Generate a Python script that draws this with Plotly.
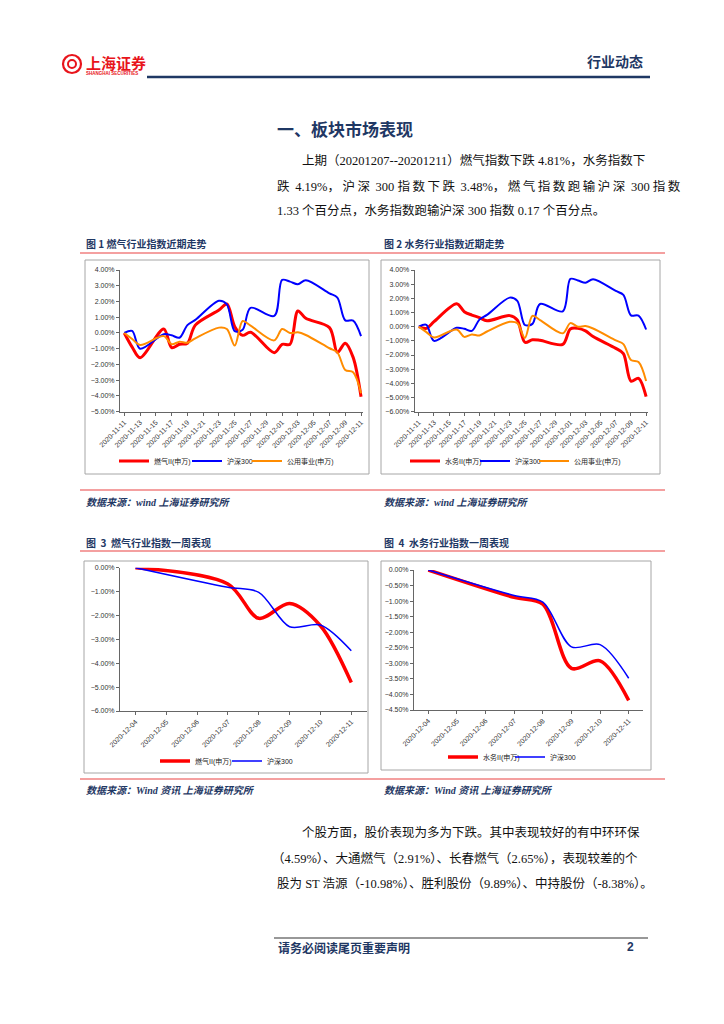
import plotly.graph_objects as go

# page is 724x1024; the html body has an 8px margin, so the figure covers 8..716 x 8..1016
OFF = 8
W, H = 708, 1008


def px(x):
    return (x - OFF) / W


def py(y):
    return 1 - (y - OFF) / H


# ---------------- data ----------------
month_dates = ["2020-11-11", "2020-11-12", "2020-11-13", "2020-11-16", "2020-11-17", "2020-11-18",
               "2020-11-19", "2020-11-20", "2020-11-23", "2020-11-24", "2020-11-25", "2020-11-26",
               "2020-11-27", "2020-11-30", "2020-12-01", "2020-12-02", "2020-12-03", "2020-12-04",
               "2020-12-07", "2020-12-08", "2020-12-09", "2020-12-10", "2020-12-11"]
gas_month = [0.00, -0.90, -1.57, 0.25, -0.93, -0.72, -0.65, 0.50, 1.46, 1.84, 0.40, -0.15,
             0.05, -1.25, -0.72, -0.72, 1.40, 0.93, 0.34, -1.23, -0.65, -1.55, -4.05]
hs300_month = [0.00, 0.13, -1.00, -0.08, -0.15, -0.30, 0.50, 0.83, 2.05, 1.82, 0.12, 0.20,
               1.60, 1.08, 3.37, 3.26, 3.10, 3.35, 2.52, 2.25, 0.80, 0.78, -0.20]
utility_month = [0.00, -0.38, -0.76, -0.20, -0.72, -0.55, -0.62, -0.34, 0.34, 0.25, -0.80, 0.76,
                 0.47, -0.47, 0.25, 0.00, 0.04, -0.13, -0.97, -1.23, -2.35, -2.50, -3.83]
water_month = [0.00, -0.12, 0.35, 1.62, 1.06, 0.82, 0.64, 0.42, 0.78, 0.47, -1.10, -0.92,
               -0.96, -1.25, -0.16, -0.12, -0.30, -0.70, -1.53, -1.90, -3.84, -3.65, -4.94]
month_ticks = ["2020-11-11", "2020-11-13", "2020-11-15", "2020-11-17", "2020-11-19", "2020-11-21",
               "2020-11-23", "2020-11-25", "2020-11-27", "2020-11-29", "2020-12-01", "2020-12-03",
               "2020-12-05", "2020-12-07", "2020-12-09", "2020-12-11"]

week_dates = ["2020-12-04", "2020-12-07", "2020-12-08", "2020-12-09", "2020-12-10", "2020-12-11"]
gas_week = [0.00, -0.68, -2.12, -1.50, -2.43, -4.81]
hs300_week = [0.00, -0.82, -1.03, -2.47, -2.40, -3.48]
water_week = [0.00, -0.88, -1.10, -3.16, -2.92, -4.19]
week_ticks = ["2020-12-04", "2020-12-05", "2020-12-06", "2020-12-07", "2020-12-08", "2020-12-09",
              "2020-12-10", "2020-12-11"]

name_gas = "燃气II(申万)"
name_water = "水务II(申万)"
name_hs = "沪深300"
name_util = "公用事业(申万)"

# ---------------- styles ----------------
RED = "#FF0000"
BLUE = "#0000FF"
ORANGE = "#FF8C00"
NAVY = "#1F3864"
CJK = "Liberation Serif, Noto Sans CJK SC"
SANS = "Liberation Sans, Noto Sans CJK SC"

fig = go.Figure()

legend_layout = {}
legend_count = [0]


def add(x, y, name, color, width, n, text_x, text_y):
    legend_count[0] += 1
    k = legend_count[0]
    lid = "legend" if k == 1 else f"legend{k}"
    legend_layout[lid] = dict(
        x=px(text_x - 38), y=py(text_y), xanchor="left", yanchor="middle",
        orientation="h", font=dict(size=7, color="#222222", family=SANS),
        bgcolor="rgba(0,0,0,0)", itemwidth=30, tracegroupgap=0, visible=True)
    fig.add_trace(go.Scatter(
        x=x, y=y, name=name, mode="lines", showlegend=True,
        line=dict(color=color, width=width, shape="spline", smoothing=0.9),
        xaxis="x" if n == 1 else f"x{n}", yaxis="y" if n == 1 else f"y{n}",
        legend=lid))


add(month_dates, gas_month, name_gas, RED, 3, 1, 152, 461)
add(month_dates, hs300_month, name_hs, BLUE, 2, 1, 225, 461)
add(month_dates, utility_month, name_util, ORANGE, 2, 1, 285, 461)

add(month_dates, water_month, name_water, RED, 3, 2, 443, 461)
add(month_dates, hs300_month, name_hs, BLUE, 2, 2, 513, 461)
add(month_dates, utility_month, name_util, ORANGE, 2, 2, 572, 461)

add(week_dates, gas_week, name_gas, RED, 3.5, 3, 193, 761)
add(week_dates, hs300_week, name_hs, BLUE, 1.5, 3, 265, 761)

add(week_dates, water_week, name_water, RED, 3.5, 4, 481, 757)
add(week_dates, hs300_week, name_hs, BLUE, 1.5, 4, 548, 757)

tickfont = dict(size=7, color="#333333", family=SANS)


def xaxis(domain, anchor, rng, ticks):
    return dict(domain=domain, anchor=anchor, type="date", range=rng, automargin=False,
                tickvals=ticks, ticktext=ticks, tickangle=-45, tickfont=tickfont,
                showline=True, linecolor="#666666", linewidth=1, ticks="outside",
                ticklen=3, tickcolor="#666666", showgrid=False, zeroline=False)


def yaxis(domain, anchor, rng, dtick):
    return dict(domain=domain, anchor=anchor, range=rng, tick0=0, dtick=dtick, automargin=False,
                tickformat=".2f", ticksuffix="%", tickfont=tickfont,
                showline=True, linecolor="#666666", linewidth=1, ticks="outside",
                ticklen=3, tickcolor="#666666", showgrid=False, zeroline=False)


mrange = ["2020-11-10 11:00", "2020-12-11 06:00"]
wrange = ["2020-12-03 12:00", "2020-12-11 12:00"]

fig.update_layout(
    width=W, height=H, margin=dict(l=0, r=0, t=0, b=0, pad=0, autoexpand=False),
    autosize=False, showlegend=True,
    paper_bgcolor="white", plot_bgcolor="white",
    xaxis=xaxis([px(120), px(363)], "y", mrange, month_ticks),
    yaxis=yaxis([py(411.7), py(270)], "x", [-5, 4], 1),
    xaxis2=xaxis([px(414.7), px(648)], "y2", mrange, month_ticks),
    yaxis2=yaxis([py(411.7), py(270)], "x2", [-6, 4], 1),
    xaxis3=xaxis([px(120), px(366.7)], "y3", wrange, week_ticks),
    yaxis3=yaxis([py(711), py(567.7)], "x3", [-6, 0], 1),
    xaxis4=xaxis([px(414), px(643)], "y4", wrange, week_ticks),
    yaxis4=yaxis([py(710), py(570)], "x4", [-4.5, 0], 0.5),
    **legend_layout,
)

shapes = []


def hline(x0, x1, y, color, width):
    shapes.append(dict(type="line", xref="paper", yref="paper", x0=px(x0), x1=px(x1),
                       y0=py(y), y1=py(y), line=dict(color=color, width=width)))


def rect(x0, y0, x1, y1, color="#A6A6A6"):
    shapes.append(dict(type="rect", xref="paper", yref="paper", x0=px(x0), x1=px(x1),
                       y0=py(y1), y1=py(y0), line=dict(color=color, width=1)))


# header / footer rules
hline(147, 650, 77, NAVY, 2.5)
hline(274, 648, 938, "#333333", 1.2)
# red separators
PINK = "#F08080"
hline(80, 665, 253, PINK, 1.5)
hline(80, 665, 490, PINK, 1.5)
hline(80, 665, 551, PINK, 1.5)
hline(80, 665, 779, PINK, 1.5)
# chart frames
rect(85, 260, 369, 474)
rect(381, 260, 660, 474)
rect(84, 561, 368, 773)
rect(381, 561, 651, 770)
# logo circle
shapes.append(dict(type="circle", xref="paper", yref="paper", x0=px(63), x1=px(81),
                   y0=py(73), y1=py(55), line=dict(color="#E8141B", width=2.2)))
shapes.append(dict(type="circle", xref="paper", yref="paper", x0=px(68), x1=px(76),
                   y0=py(68), y1=py(60), line=dict(color="#E8141B", width=2)))

annotations = []


def text(x, y, s, size, color="#111111", bold=False, italic=False, family=CJK,
         anchor="left"):
    if bold:
        s = f"<b>{s}</b>"
    if italic:
        s = f"<i>{s}</i>"
    annotations.append(dict(xref="paper", yref="paper", x=px(x), y=py(y), text=s,
                            showarrow=False, xanchor=anchor, yanchor="middle",
                            font=dict(size=size, color=color, family=family)))


def spread(s, gap="\u200a"):
    # loosen CJK characters slightly to imitate justified text
    out = []
    for ch in s:
        out.append(ch)
        if ord(ch) > 127:
            out.append(gap)
    return "".join(out)


text(84, 62, "上海证券", 15, "#E8141B", bold=True, family="Noto Sans CJK SC")
text(84, 74, "SHANGHAI SECURITIES", 4.5, "#E8141B", bold=True, family=SANS)
text(645, 61, "行业动态", 14, NAVY, bold=True, family="Noto Sans CJK SC", anchor="right")

text(275, 128, "一、板块市场表现", 17, NAVY, bold=True, family="Noto Sans CJK SC")
text(300, 160, "上期（20201207--20201211）燃气指数下跌 4.81%，水务指数下", 12.5)
text(275, 186, spread("跌 4.19%，沪深 300 指数下跌 3.48%，燃气指数跑输沪深 300 指数", "\u2009"), 12.5)
text(275, 211, "1.33 个百分点，水务指数跑输沪深 300 指数 0.17 个百分点。", 12.5)

text(84, 243, "图 1 燃气行业指数近期走势", 10, NAVY, bold=True, family="Noto Sans CJK SC")
text(382, 243, "图 2 水务行业指数近期走势", 10, NAVY, bold=True, family="Noto Sans CJK SC")
text(84, 502, "数据来源：wind 上海证券研究所", 10, NAVY, bold=True, italic=True)
text(382, 502, "数据来源：wind 上海证券研究所", 10, NAVY, bold=True, italic=True)
text(84, 542, "图  3  燃气行业指数一周表现", 10, NAVY, bold=True, family="Noto Sans CJK SC")
text(382, 542, "图  4  水务行业指数一周表现", 10, NAVY, bold=True, family="Noto Sans CJK SC")
text(84, 790, "数据来源：Wind 资讯 上海证券研究所", 10, NAVY, bold=True, italic=True)
text(382, 790, "数据来源：Wind 资讯 上海证券研究所", 10, NAVY, bold=True, italic=True)

text(300, 832, "个股方面，股价表现为多为下跌。其中表现较好的有中环环保", 12.5)
text(270, 858, "（4.59%）、大通燃气（2.91%）、长春燃气（2.65%），表现较差的个", 12.5)
text(275, 883, "股为 ST 浩源（-10.98%）、胜利股份（9.89%）、中持股份（-8.38%）。", 12.5)

text(276, 947, "请务必阅读尾页重要声明", 12, NAVY, bold=True, family="Noto Sans CJK SC")
text(636, 947, "2", 12, NAVY, bold=True, family=SANS, anchor="right")

fig.update_layout(shapes=shapes, annotations=annotations)

fig.write_html("out.html")
